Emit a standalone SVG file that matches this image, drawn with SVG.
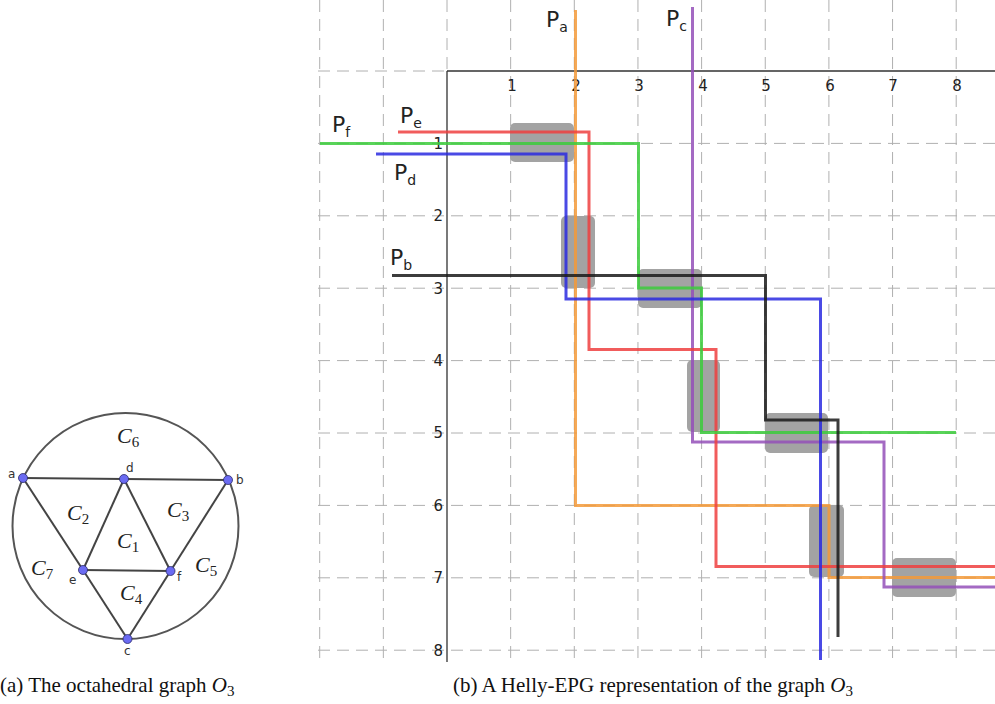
<svg xmlns="http://www.w3.org/2000/svg" width="995" height="704" viewBox="0 0 995 704">
<style>
.grid{stroke:#b0b0b0;stroke-width:1;stroke-dasharray:12,7;fill:none}
.axis{stroke:#333;stroke-width:1.3;fill:none}
.tick{font-family:"DejaVu Sans",sans-serif;font-size:15px;fill:#222}
.plab{font-family:"DejaVu Sans",sans-serif;font-size:22px;fill:#222}
.sub{font-size:14px}
.box{fill:#a3a3a3}
.path{fill:none;stroke-width:3;stroke-opacity:0.85;stroke-linejoin:miter}
.edge{stroke:#444;stroke-width:2;fill:none}
.node{fill:#6b6bf2;stroke:#2a2a6a;stroke-width:0.8}
.nlab{font-family:"DejaVu Sans",sans-serif;font-size:12px;fill:#333}
.face{font-family:"Liberation Serif",serif;font-style:italic;font-size:22px;fill:#222}
.fsub{font-style:normal;font-size:15px}
.cap{font-family:"Liberation Serif",serif;font-size:21px;fill:#111}
</style>
<rect width="995" height="704" fill="#fff"/>

<!-- (a) octahedral graph -->
<g id="graph-a">
<circle id="outer-circle" cx="125.5" cy="526" r="113" fill="none" stroke="#555" stroke-width="2"/>
<g id="edges">
<line class="edge" x1="23" y1="478" x2="124" y2="479"/>
<line class="edge" x1="124" y1="479" x2="228" y2="480"/>
<line class="edge" x1="23" y1="478" x2="83" y2="570"/>
<line class="edge" x1="124" y1="479" x2="83" y2="570"/>
<line class="edge" x1="124" y1="479" x2="170.5" y2="571"/>
<line class="edge" x1="228" y1="480" x2="170.5" y2="571"/>
<line class="edge" x1="83" y1="570" x2="170.5" y2="571"/>
<line class="edge" x1="83" y1="570" x2="127.5" y2="639"/>
<line class="edge" x1="170.5" y1="571" x2="127.5" y2="639"/>
</g>
<g id="node-a"><circle class="node" cx="23" cy="478" r="4.5"/><text class="nlab" x="8" y="478">a</text></g>
<g id="node-d"><circle class="node" cx="124" cy="479" r="4.5"/><text class="nlab" x="126" y="472">d</text></g>
<g id="node-b"><circle class="node" cx="228" cy="480" r="4.5"/><text class="nlab" x="236" y="484">b</text></g>
<g id="node-e"><circle class="node" cx="83" cy="570" r="4.5"/><text class="nlab" x="69" y="584">e</text></g>
<g id="node-f"><circle class="node" cx="170.5" cy="571" r="4.5"/><text class="nlab" x="177" y="581">f</text></g>
<g id="node-c"><circle class="node" cx="127.5" cy="639" r="4.5"/><text class="nlab" x="124" y="655">c</text></g>
<g id="faces">
<text class="face" x="117" y="443">C<tspan class="fsub" dy="4">6</tspan></text>
<text class="face" x="67" y="520">C<tspan class="fsub" dy="4">2</tspan></text>
<text class="face" x="167" y="517">C<tspan class="fsub" dy="4">3</tspan></text>
<text class="face" x="117" y="548">C<tspan class="fsub" dy="4">1</tspan></text>
<text class="face" x="31" y="575">C<tspan class="fsub" dy="4">7</tspan></text>
<text class="face" x="195" y="572">C<tspan class="fsub" dy="4">5</tspan></text>
<text class="face" x="120" y="600">C<tspan class="fsub" dy="4">4</tspan></text>
</g>
</g>

<!-- (b) grid -->
<g id="grid">
<path class="grid" d="M319.7,0V660 M383.35,0V660 M447,0V71 M510.65,0V660 M574.3,0V660 M637.95,0V660 M701.6,0V660 M765.25,0V660 M828.9,0V660 M892.55,0V660 M956.2,0V660"/>
<path class="grid" d="M318,71H447 M318,143.4H995 M318,215.8H995 M318,288.2H995 M318,360.6H995 M318,433H995 M318,505.4H995 M318,577.8H995 M318,650.2H995"/>
<path class="axis" d="M447,71H995 M447,71V662"/>
<g id="xticks">
<text class="tick" x="512" y="91" text-anchor="middle">1</text>
<text class="tick" x="576" y="91" text-anchor="middle">2</text>
<text class="tick" x="639" y="91" text-anchor="middle">3</text>
<text class="tick" x="703" y="91" text-anchor="middle">4</text>
<text class="tick" x="766" y="91" text-anchor="middle">5</text>
<text class="tick" x="830" y="91" text-anchor="middle">6</text>
<text class="tick" x="893" y="91" text-anchor="middle">7</text>
<text class="tick" x="957" y="91" text-anchor="middle">8</text>
</g>
<g id="yticks">
<text class="tick" x="443" y="149" text-anchor="end">1</text>
<text class="tick" x="443" y="221" text-anchor="end">2</text>
<text class="tick" x="443" y="294" text-anchor="end">3</text>
<text class="tick" x="443" y="366" text-anchor="end">4</text>
<text class="tick" x="443" y="438" text-anchor="end">5</text>
<text class="tick" x="443" y="511" text-anchor="end">6</text>
<text class="tick" x="443" y="583" text-anchor="end">7</text>
<text class="tick" x="443" y="656" text-anchor="end">8</text>
</g>
</g>

<g id="cliques">
<rect class="box" x="510" y="123" width="64" height="39" rx="5"/>
<rect class="box" x="561" y="216" width="34" height="72" rx="5"/>
<rect class="box" x="638" y="269" width="64" height="39" rx="5"/>
<rect class="box" x="687" y="360" width="33" height="72" rx="5"/>
<rect class="box" x="765" y="413" width="63" height="40" rx="5"/>
<rect class="box" x="809" y="505" width="35" height="72" rx="5"/>
<rect class="box" x="892" y="558" width="64" height="39" rx="5"/>
</g>

<g id="connectors">
<path id="Pa" class="path" stroke="#f39a3a" d="M575.5,10V505.5H829V577.5H995"/>
<path id="Pc" class="path" stroke="#9450b8" d="M692.5,7V442H884V587H995"/>
<path id="Pe" class="path" stroke="#ee4040" d="M398,132H589V349.5H716V566.5H995"/>
<path id="Pf" class="path" stroke="#3ccc3c" d="M320,143.5H638.5V288H701.5V432.5H956"/>
<path id="Pd" class="path" stroke="#2a2ae0" d="M376,154H566V299H820.5V660"/>
<path id="Pb" class="path" stroke="#1a1a1a" d="M392,275.5H765.5V420H838V637"/>
</g>

<g id="labels">
<text class="plab" x="546" y="27">P<tspan class="sub" dy="5">a</tspan></text>
<text class="plab" x="666" y="26">P<tspan class="sub" dy="5">c</tspan></text>
<text class="plab" x="400" y="123">P<tspan class="sub" dy="5">e</tspan></text>
<text class="plab" x="332" y="132">P<tspan class="sub" dy="5">f</tspan></text>
<text class="plab" x="394" y="180">P<tspan class="sub" dy="5">d</tspan></text>
<text class="plab" x="390" y="265">P<tspan class="sub" dy="5">b</tspan></text>
</g>

<g id="captions">
<text class="cap" x="0" y="692">(a) The octahedral graph <tspan font-style="italic">O</tspan><tspan font-size="15" dy="4">3</tspan></text>
<text class="cap" x="453" y="692">(b) A Helly-EPG representation of the graph <tspan font-style="italic">O</tspan><tspan font-size="15" dy="4">3</tspan></text>
</g>
</svg>
